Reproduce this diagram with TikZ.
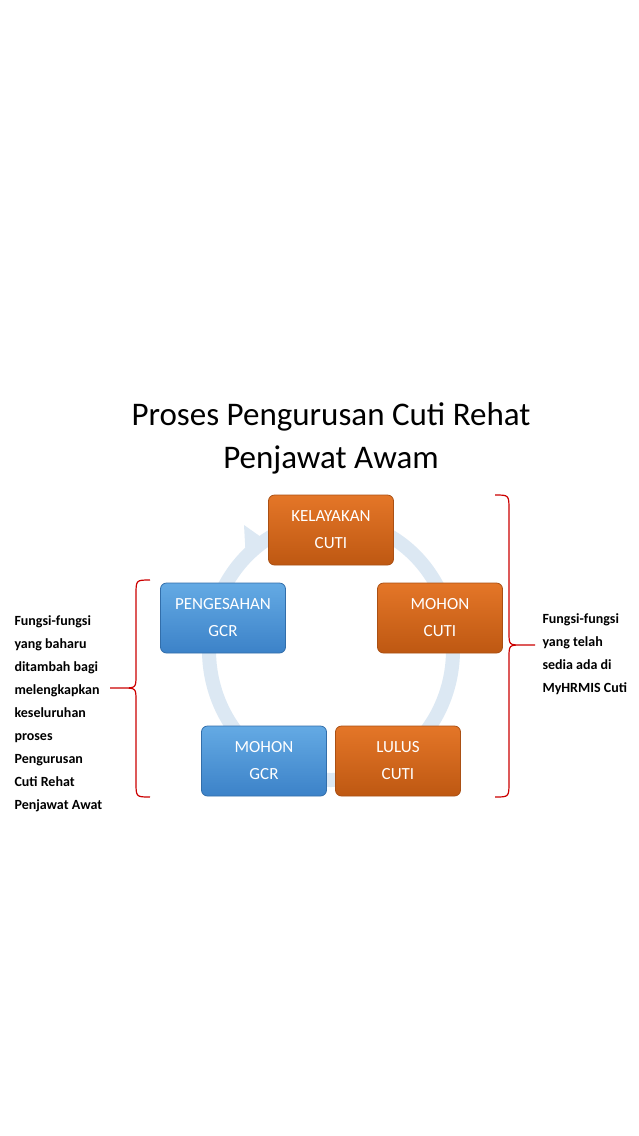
\documentclass[tikz,border=0pt]{standalone}
\usepackage{fontspec}
\setmainfont{Carlito}
\begin{document}
\begin{tikzpicture}[x=1pt,y=1pt,
  box/.style={rounded corners=6pt,minimum width=125pt,minimum height=70pt,align=center,text=white,font=\fontsize{17}{27}\selectfont,draw=#1,line width=0.8pt},
  obox/.style={box=oedge,top color=otop,bottom color=obot},
  bbox/.style={box=bedge,top color=btop,bottom color=bbot},
  side/.style={font=\bfseries\fontsize{14}{23}\selectfont,align=left,anchor=north west},
  brace/.style={draw=red!80!black,line width=1.2pt}]
\definecolor{otop}{RGB}{228,118,40}
\definecolor{obot}{RGB}{190,88,18}
\definecolor{oedge}{RGB}{170,80,20}
\definecolor{btop}{RGB}{100,170,228}
\definecolor{bbot}{RGB}{60,130,200}
\definecolor{bedge}{RGB}{50,110,170}
\definecolor{ring}{RGB}{220,232,243}
\useasboundingbox (0,0) rectangle (639,-1136);
\fill[white] (0,0) rectangle (639,-1136);
\node[font=\fontsize{33}{43}\selectfont,align=center] (title) at (331,-438) {Proses Pengurusan Cuti Rehat\\Penjawat Awam};
\draw[ring,line width=14pt] (331,-650) ellipse (122 and 130);
\fill[ring] (244,-525) -- (268,-542) -- (246,-560) -- cycle;
\node[obox] (kel) at (331,-530) {KELAYAKAN\\CUTI};
\node[obox] (mc) at (440,-618) {MOHON\\CUTI};
\node[bbox] (pg) at (223,-618) {PENGESAHAN\\GCR};
\node[bbox] (mg) at (264,-761) {MOHON\\GCR};
\node[obox] (lc) at (398,-761) {LULUS\\CUTI};
\coordinate (lt) at (110,-688);
\coordinate (rt) at (535,-645);
\draw[brace] (150,-580) .. controls (136,-580) .. (136,-595) -- (136,-675) .. controls (136,-688) .. (122,-688) -- (lt)
 (122,-688) .. controls (136,-688) .. (136,-701) -- (136,-782) .. controls (136,-797) .. (150,-797);
\draw[brace] (495,-495) .. controls (509,-495) .. (509,-510) -- (509,-632) .. controls (509,-645) .. (522,-645) -- (rt)
 (522,-645) .. controls (509,-645) .. (509,-658) -- (509,-782) .. controls (509,-797) .. (495,-797);
\node[side] (lx) at (11,-612) {Fungsi-fungsi\\yang baharu\\ditambah bagi\\melengkapkan\\keseluruhan\\proses\\Pengurusan\\Cuti Rehat\\Penjawat Awat};
\node[side] (rx) at (539,-610) {Fungsi-fungsi\\yang telah\\sedia ada di\\MyHRMIS Cuti};
\end{tikzpicture}
\end{document}
